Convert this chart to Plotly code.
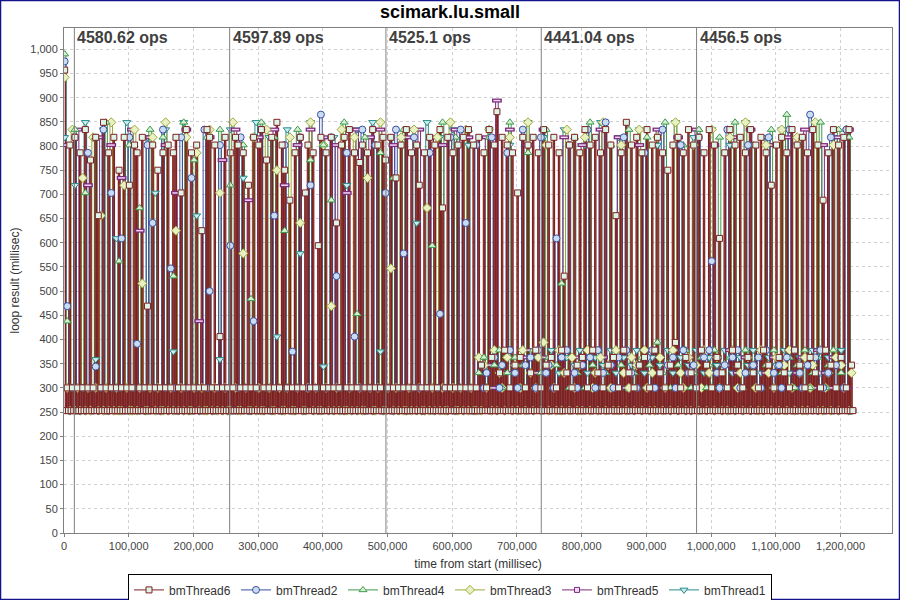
import plotly.graph_objects as go

# sample times (seconds from start) for threads 2,4,3,5,1
t_sec = [
    1, 5, 9, 13, 17, 21, 25, 29, 33, 37, 41, 45, 49, 53, 57, 61, 65, 69, 73, 77,
    81, 85, 89, 93, 97, 101, 105, 109, 113, 117, 121, 125, 129, 133, 137, 141, 145, 149, 153, 157,
    161, 165, 169, 173, 177, 181, 185, 189, 193, 197, 201, 205, 209, 213, 217, 221, 225, 229, 233, 237,
    241, 245, 249, 253, 257, 261, 265, 269, 273, 277, 281, 285, 289, 293, 297, 301, 305, 309, 313, 317,
    321, 325, 329, 333, 337, 341, 345, 349, 353, 357, 361, 365, 369, 373, 377, 381, 385, 389, 393, 397,
    401, 405, 409, 413, 417, 421, 425, 429, 433, 437, 441, 445, 449, 453, 457, 461, 465, 469, 473, 477,
    481, 485, 489, 493, 497, 501, 505, 509, 513, 517, 521, 525, 529, 533, 537, 541, 545, 549, 553, 557,
    561, 565, 569, 573, 577, 581, 585, 589, 593, 597, 601, 605, 609, 613, 617, 621, 625, 629, 633, 637,
    641, 645, 649, 653, 657, 661, 665, 669, 673, 677, 681, 685, 689, 693, 697, 701, 705, 709, 713, 717,
    721, 725, 729, 733, 737, 741, 745, 749, 753, 757, 761, 765, 769, 773, 777, 781, 785, 789, 793, 797,
    801, 805, 809, 813, 817, 821, 825, 829, 833, 837, 841, 845, 849, 853, 857, 861, 865, 869, 873, 877,
    881, 885, 889, 893, 897, 901, 905, 909, 913, 917, 921, 925, 929, 933, 937, 941, 945, 949, 953, 957,
    961, 965, 969, 973, 977, 981, 985, 989, 993, 997, 1001, 1005, 1009, 1013, 1017, 1021, 1025, 1029, 1033, 1037,
    1041, 1045, 1049, 1053, 1057, 1061, 1065, 1069, 1073, 1077, 1081, 1085, 1089, 1093, 1097, 1101, 1105, 1109, 1113, 1117,
    1121, 1125, 1129, 1133, 1137, 1141, 1145, 1149, 1153, 1157, 1161, 1165, 1169, 1173, 1177, 1181, 1185, 1189, 1193, 1197,
    1201, 1205, 1209, 1213, 1217,
]

# sample times (seconds from start) for thread 6
t6_sec = [
    1, 3, 5, 7, 9, 11, 13, 15, 17, 19, 21, 23, 25, 27, 29, 31, 33, 35, 37, 39,
    41, 43, 45, 47, 49, 51, 53, 55, 57, 59, 61, 63, 65, 67, 69, 71, 73, 75, 77, 79,
    81, 83, 85, 87, 89, 91, 93, 95, 97, 99, 101, 103, 105, 107, 109, 111, 113, 115, 117, 119,
    121, 123, 125, 127, 129, 131, 133, 135, 137, 139, 141, 143, 145, 147, 149, 151, 153, 155, 157, 159,
    161, 163, 165, 167, 169, 171, 173, 175, 177, 179, 181, 183, 185, 187, 189, 191, 193, 195, 197, 199,
    201, 203, 205, 207, 209, 211, 213, 215, 217, 219, 221, 223, 225, 227, 229, 231, 233, 235, 237, 239,
    241, 243, 245, 247, 249, 251, 253, 255, 257, 259, 261, 263, 265, 267, 269, 271, 273, 275, 277, 279,
    281, 283, 285, 287, 289, 291, 293, 295, 297, 299, 301, 303, 305, 307, 309, 311, 313, 315, 317, 319,
    321, 323, 325, 327, 329, 331, 333, 335, 337, 339, 341, 343, 345, 347, 349, 351, 353, 355, 357, 359,
    361, 363, 365, 367, 369, 371, 373, 375, 377, 379, 381, 383, 385, 387, 389, 391, 393, 395, 397, 399,
    401, 403, 405, 407, 409, 411, 413, 415, 417, 419, 421, 423, 425, 427, 429, 431, 433, 435, 437, 439,
    441, 443, 445, 447, 449, 451, 453, 455, 457, 459, 461, 463, 465, 467, 469, 471, 473, 475, 477, 479,
    481, 483, 485, 487, 489, 491, 493, 495, 497, 499, 501, 503, 505, 507, 509, 511, 513, 515, 517, 519,
    521, 523, 525, 527, 529, 531, 533, 535, 537, 539, 541, 543, 545, 547, 549, 551, 553, 555, 557, 559,
    561, 563, 565, 567, 569, 571, 573, 575, 577, 579, 581, 583, 585, 587, 589, 591, 593, 595, 597, 599,
    601, 603, 605, 607, 609, 611, 613, 615, 617, 619, 621, 623, 625, 627, 629, 631, 633, 635, 637, 639,
    641, 643, 645, 647, 649, 651, 653, 655, 657, 659, 661, 663, 665, 667, 669, 671, 673, 675, 677, 679,
    681, 683, 685, 687, 689, 691, 693, 695, 697, 699, 701, 703, 705, 707, 709, 711, 713, 715, 717, 719,
    721, 723, 725, 727, 729, 731, 733, 735, 737, 739, 741, 743, 745, 747, 749, 751, 753, 755, 757, 759,
    761, 763, 765, 767, 769, 771, 773, 775, 777, 779, 781, 783, 785, 787, 789, 791, 793, 795, 797, 799,
    801, 803, 805, 807, 809, 811, 813, 815, 817, 819, 821, 823, 825, 827, 829, 831, 833, 835, 837, 839,
    841, 843, 845, 847, 849, 851, 853, 855, 857, 859, 861, 863, 865, 867, 869, 871, 873, 875, 877, 879,
    881, 883, 885, 887, 889, 891, 893, 895, 897, 899, 901, 903, 905, 907, 909, 911, 913, 915, 917, 919,
    921, 923, 925, 927, 929, 931, 933, 935, 937, 939, 941, 943, 945, 947, 949, 951, 953, 955, 957, 959,
    961, 963, 965, 967, 969, 971, 973, 975, 977, 979, 981, 983, 985, 987, 989, 991, 993, 995, 997, 999,
    1001, 1003, 1005, 1007, 1009, 1011, 1013, 1015, 1017, 1019, 1021, 1023, 1025, 1027, 1029, 1031, 1033, 1035, 1037, 1039,
    1041, 1043, 1045, 1047, 1049, 1051, 1053, 1055, 1057, 1059, 1061, 1063, 1065, 1067, 1069, 1071, 1073, 1075, 1077, 1079,
    1081, 1083, 1085, 1087, 1089, 1091, 1093, 1095, 1097, 1099, 1101, 1103, 1105, 1107, 1109, 1111, 1113, 1115, 1117, 1119,
    1121, 1123, 1125, 1127, 1129, 1131, 1133, 1135, 1137, 1139, 1141, 1143, 1145, 1147, 1149, 1151, 1153, 1155, 1157, 1159,
    1161, 1163, 1165, 1167, 1169, 1171, 1173, 1175, 1177, 1179, 1181, 1183, 1185, 1187, 1189, 1191, 1193, 1195, 1197, 1199,
    1201, 1203, 1205, 1207, 1209, 1211, 1213, 1215, 1217, 1219,
]

bmThread6 = [
    957, 253, 300, 253, 802, 253, 300, 253, 818, 253, 300, 253, 786, 253, 300, 253, 834, 253, 300, 253,
    771, 253, 300, 253, 818, 253, 656, 253, 300, 253, 849, 253, 300, 253, 786, 253, 300, 253, 818, 253,
    300, 253, 750, 253, 300, 253, 818, 253, 300, 253, 719, 253, 300, 253, 802, 253, 786, 253, 300, 253,
    818, 253, 300, 253, 469, 253, 300, 253, 802, 253, 300, 253, 750, 253, 300, 253, 786, 253, 300, 253,
    802, 253, 300, 253, 786, 253, 818, 253, 300, 253, 703, 253, 300, 253, 834, 253, 300, 253, 786, 253,
    300, 253, 802, 253, 300, 253, 625, 253, 300, 253, 834, 253, 818, 253, 300, 253, 802, 253, 300, 253,
    406, 253, 300, 253, 818, 253, 300, 253, 786, 253, 300, 253, 818, 253, 802, 253, 300, 253, 786, 253,
    300, 253, 719, 253, 300, 253, 818, 253, 300, 253, 802, 253, 834, 253, 300, 253, 771, 253, 300, 253,
    818, 253, 300, 253, 849, 253, 300, 253, 802, 253, 750, 253, 300, 253, 688, 253, 300, 253, 786, 253,
    300, 253, 818, 253, 300, 253, 703, 253, 802, 253, 300, 253, 786, 253, 300, 253, 594, 253, 818, 253,
    300, 253, 786, 253, 300, 253, 818, 253, 300, 253, 641, 253, 300, 253, 802, 253, 818, 253, 300, 253,
    834, 253, 300, 253, 786, 253, 300, 253, 766, 253, 802, 253, 300, 253, 786, 253, 300, 253, 834, 253,
    300, 253, 802, 253, 300, 253, 818, 253, 771, 253, 300, 253, 818, 253, 300, 253, 734, 253, 300, 253,
    802, 253, 300, 253, 834, 253, 300, 253, 786, 253, 300, 253, 802, 253, 719, 253, 300, 253, 786, 253,
    300, 253, 818, 253, 300, 253, 802, 253, 300, 253, 834, 253, 672, 253, 300, 253, 818, 253, 300, 253,
    786, 253, 300, 253, 802, 253, 300, 253, 818, 253, 300, 253, 834, 253, 300, 253, 802, 253, 300, 253,
    818, 253, 347, 253, 786, 253, 300, 253, 834, 253, 363, 253, 802, 253, 871, 253, 331, 253, 818, 253,
    378, 253, 802, 253, 300, 253, 786, 253, 347, 253, 703, 253, 363, 253, 818, 253, 300, 253, 802, 253,
    331, 253, 818, 253, 378, 253, 786, 253, 300, 253, 834, 253, 347, 253, 802, 253, 363, 253, 818, 253,
    300, 253, 786, 253, 378, 253, 531, 253, 331, 253, 802, 253, 300, 253, 818, 253, 347, 253, 786, 253,
    363, 253, 834, 253, 300, 253, 802, 253, 378, 253, 818, 253, 331, 253, 786, 253, 300, 253, 834, 253,
    347, 253, 802, 253, 363, 253, 656, 253, 300, 253, 786, 253, 378, 253, 849, 253, 331, 253, 802, 253,
    300, 253, 818, 253, 347, 253, 786, 253, 363, 253, 834, 253, 300, 253, 802, 253, 378, 253, 818, 253,
    331, 253, 786, 253, 300, 253, 750, 253, 347, 253, 802, 253, 394, 253, 818, 253, 300, 253, 786, 253,
    363, 253, 834, 253, 331, 253, 802, 253, 300, 253, 818, 253, 378, 253, 786, 253, 347, 253, 834, 253,
    300, 253, 802, 253, 363, 253, 609, 253, 331, 253, 786, 253, 300, 253, 834, 253, 378, 253, 802, 253,
    347, 253, 818, 253, 300, 253, 786, 253, 363, 253, 834, 253, 331, 253, 802, 253, 300, 253, 818, 253,
    378, 253, 786, 253, 347, 253, 719, 253, 300, 253, 802, 253, 363, 253, 818, 253, 331, 253, 786, 253,
    300, 253, 834, 253, 378, 253, 802, 253, 347, 253, 818, 253, 300, 253, 786, 253, 363, 253, 834, 253,
    331, 253, 802, 253, 300, 253, 688, 253, 378, 253, 786, 253, 347, 253, 834, 253, 300, 253, 802, 253,
    363, 253, 818, 253, 300, 253, 834, 253, 347, 253,
]

bmThread2 = [
    975, 469, 253, 300, 818, 253, 253, 300, 253, 786, 300, 253, 344, 253, 300, 834, 253, 253, 703, 300,
    253, 300, 609, 253, 253, 818, 300, 253, 391, 253, 300, 253, 802, 253, 641, 300, 253, 253, 834, 300,
    253, 547, 300, 253, 253, 818, 253, 300, 253, 734, 253, 300, 253, 253, 834, 300, 500, 253, 253, 300,
    802, 253, 300, 253, 594, 253, 253, 300, 818, 253, 300, 253, 253, 438, 300, 253, 834, 253, 300, 253,
    253, 656, 300, 253, 253, 802, 300, 253, 375, 253, 300, 818, 253, 253, 300, 719, 253, 300, 253, 865,
    253, 300, 253, 818, 253, 531, 300, 253, 253, 786, 300, 253, 406, 253, 300, 834, 253, 253, 300, 253,
    802, 300, 253, 253, 703, 300, 253, 253, 834, 253, 300, 578, 253, 253, 300, 818, 253, 300, 253, 253,
    300, 786, 253, 253, 300, 453, 253, 300, 253, 818, 253, 253, 300, 834, 253, 641, 300, 253, 253, 802,
    253, 347, 300, 331, 253, 818, 363, 253, 300, 347, 253, 786, 378, 253, 331, 300, 253, 834, 347, 253,
    363, 253, 300, 378, 818, 253, 331, 347, 253, 300, 609, 253, 363, 253, 378, 802, 253, 331, 300, 253,
    347, 253, 834, 363, 253, 300, 378, 253, 331, 849, 253, 347, 300, 253, 363, 253, 818, 378, 253, 331,
    253, 300, 347, 253, 786, 363, 253, 378, 300, 253, 331, 834, 253, 347, 253, 363, 300, 253, 802, 378,
    253, 331, 253, 347, 300, 818, 253, 363, 253, 378, 562, 253, 331, 300, 253, 347, 834, 253, 363, 253,
    378, 300, 253, 331, 802, 253, 347, 253, 363, 300, 253, 378, 818, 253, 331, 253, 347, 300, 253, 363,
    834, 253, 378, 253, 331, 300, 253, 347, 865, 253, 363, 253, 378, 300, 253, 331, 818, 253, 347, 253,
    363, 300, 834, 253, 253,
]

bmThread4 = [
    990, 438, 300, 253, 834, 253, 300, 253, 703, 253, 300, 253, 818, 253, 253, 300, 849, 253, 300, 253,
    253, 562, 300, 253, 253, 802, 253, 300, 253, 672, 253, 300, 253, 834, 253, 253, 300, 253, 818, 253,
    300, 253, 531, 253, 300, 253, 849, 253, 253, 300, 771, 253, 253, 300, 253, 818, 253, 300, 253, 253,
    834, 253, 300, 253, 719, 253, 300, 253, 253, 802, 300, 253, 484, 253, 300, 253, 849, 253, 253, 300,
    253, 818, 253, 300, 253, 625, 253, 300, 253, 253, 834, 300, 253, 253, 300, 771, 253, 253, 300, 253,
    802, 253, 300, 688, 253, 253, 300, 253, 849, 253, 300, 253, 253, 453, 300, 253, 818, 253, 300, 253,
    253, 300, 786, 253, 253, 300, 253, 734, 253, 300, 253, 834, 253, 253, 300, 253, 802, 300, 253, 253,
    300, 253, 594, 253, 300, 253, 849, 253, 253, 300, 253, 818, 253, 300, 253, 253, 834, 300, 253, 253,
    331, 253, 363, 300, 818, 253, 347, 253, 378, 300, 253, 331, 849, 253, 363, 253, 300, 347, 253, 786,
    253, 378, 300, 253, 331, 253, 834, 363, 253, 300, 347, 253, 516, 253, 378, 300, 253, 818, 331, 253,
    363, 300, 253, 849, 347, 253, 378, 300, 253, 331, 253, 802, 363, 253, 300, 347, 253, 378, 834, 253,
    331, 300, 253, 363, 253, 818, 347, 300, 253, 394, 253, 331, 849, 253, 300, 363, 253, 347, 253, 802,
    378, 253, 300, 331, 253, 834, 363, 253, 300, 347, 253, 378, 253, 818, 331, 300, 253, 363, 253, 849,
    347, 253, 300, 378, 253, 331, 802, 253, 363, 300, 253, 347, 253, 834, 378, 300, 253, 331, 253, 865,
    363, 253, 300, 347, 253, 818, 378, 253, 300, 331, 253, 363, 849, 253, 300, 347, 253, 378, 253, 834,
    331, 300, 253, 818, 253,
]

bmThread3 = [
    942, 300, 253, 834, 253, 300, 253, 734, 253, 300, 253, 818, 300, 253, 656, 253, 300, 253, 849, 253,
    300, 253, 253, 719, 300, 253, 253, 834, 253, 300, 516, 253, 253, 300, 818, 253, 300, 253, 253, 849,
    253, 300, 253, 625, 253, 300, 253, 818, 253, 253, 300, 786, 253, 300, 253, 253, 834, 253, 300, 253,
    703, 253, 300, 253, 253, 849, 300, 253, 253, 578, 300, 253, 253, 818, 253, 300, 253, 253, 834, 300,
    253, 253, 750, 300, 253, 253, 300, 818, 253, 253, 300, 641, 253, 253, 300, 849, 253, 300, 253, 253,
    802, 300, 253, 469, 253, 300, 253, 834, 253, 253, 300, 253, 818, 253, 300, 253, 253, 734, 300, 253,
    253, 300, 849, 253, 253, 300, 547, 253, 300, 253, 818, 253, 253, 300, 253, 834, 253, 300, 253, 253,
    672, 253, 300, 253, 818, 253, 300, 253, 253, 849, 300, 253, 253, 300, 253, 834, 253, 300, 253, 253,
    363, 253, 347, 300, 834, 253, 378, 253, 331, 300, 253, 363, 818, 253, 347, 253, 300, 378, 253, 849,
    331, 253, 300, 363, 253, 394, 802, 253, 347, 300, 253, 378, 253, 331, 834, 253, 363, 300, 253, 347,
    253, 818, 378, 253, 300, 331, 253, 363, 849, 253, 347, 300, 253, 378, 253, 802, 331, 253, 300, 363,
    253, 347, 834, 253, 378, 300, 253, 331, 253, 818, 363, 253, 300, 347, 253, 378, 849, 253, 331, 300,
    253, 363, 253, 802, 347, 253, 300, 378, 253, 331, 834, 253, 363, 300, 253, 347, 253, 818, 378, 253,
    300, 331, 253, 849, 363, 253, 347, 300, 253, 378, 253, 802, 331, 253, 300, 363, 253, 834, 347, 253,
    378, 300, 253, 818, 331, 253, 363, 253, 300, 347, 849, 253, 378, 253, 300, 331, 253, 802, 363, 253,
    347, 300, 834, 253, 331,
]

bmThread5 = [
    802, 253, 300, 253, 253, 834, 300, 253, 253, 719, 300, 253, 253, 818, 253, 300, 253, 253, 802, 300,
    253, 253, 734, 300, 253, 253, 834, 253, 300, 625, 253, 253, 300, 818, 253, 253, 300, 253, 253, 802,
    300, 253, 253, 703, 253, 300, 253, 834, 253, 253, 300, 253, 438, 253, 300, 253, 818, 253, 253, 300,
    253, 771, 300, 253, 253, 300, 834, 253, 253, 300, 253, 688, 253, 253, 300, 818, 253, 253, 300, 253,
    253, 834, 300, 253, 253, 719, 300, 253, 253, 300, 802, 253, 253, 300, 253, 834, 253, 300, 253, 253,
    818, 253, 300, 253, 253, 802, 300, 253, 253, 703, 300, 253, 253, 834, 253, 300, 253, 253, 818, 300,
    253, 253, 834, 253, 300, 253, 253, 802, 300, 253, 253, 300, 818, 253, 253, 300, 253, 834, 253, 300,
    253, 253, 818, 300, 253, 253, 802, 253, 300, 253, 253, 834, 300, 253, 253, 300, 818, 253, 253, 300,
    253, 363, 300, 818, 347, 253, 300, 894, 253, 378, 253, 331, 834, 253, 347, 300, 253, 363, 253, 802,
    378, 253, 300, 331, 253, 834, 363, 253, 347, 300, 253, 378, 253, 818, 331, 253, 300, 363, 253, 347,
    802, 253, 378, 300, 253, 331, 253, 834, 363, 253, 300, 347, 253, 378, 818, 253, 331, 300, 253, 363,
    253, 347, 802, 253, 378, 300, 253, 331, 253, 834, 363, 253, 300, 347, 253, 378, 253, 818, 331, 253,
    300, 363, 253, 347, 834, 253, 378, 300, 253, 331, 253, 802, 363, 253, 300, 347, 253, 378, 818, 253,
    331, 300, 253, 363, 253, 834, 347, 253, 300, 378, 253, 331, 802, 253, 363, 300, 253, 347, 253, 818,
    378, 253, 300, 331, 253, 363, 834, 253, 347, 300, 253, 378, 253, 802, 331, 253, 300, 363, 253, 818,
    347, 253, 300, 834, 253,
]

bmThread1 = [
    818, 300, 253, 253, 719, 300, 253, 253, 849, 253, 300, 253, 359, 253, 300, 834, 253, 253, 300, 253,
    609, 253, 300, 253, 849, 253, 253, 300, 391, 253, 253, 300, 818, 253, 253, 703, 300, 253, 253, 834,
    253, 300, 375, 253, 253, 300, 849, 253, 253, 300, 253, 656, 253, 300, 253, 253, 818, 300, 253, 253,
    359, 253, 300, 253, 834, 253, 253, 300, 253, 734, 253, 300, 253, 253, 849, 253, 300, 253, 253, 818,
    300, 253, 406, 253, 253, 300, 834, 253, 253, 300, 253, 578, 253, 300, 253, 849, 253, 253, 300, 253,
    344, 253, 300, 253, 818, 253, 253, 300, 253, 719, 253, 300, 253, 834, 253, 253, 300, 253, 253, 849,
    253, 300, 375, 253, 253, 300, 818, 253, 253, 300, 253, 253, 834, 300, 253, 253, 641, 300, 253, 253,
    849, 253, 300, 253, 253, 818, 300, 253, 253, 300, 834, 253, 253, 300, 253, 253, 802, 300, 253, 253,
    363, 253, 300, 347, 834, 253, 378, 253, 300, 331, 253, 363, 802, 253, 347, 300, 253, 378, 253, 849,
    331, 253, 300, 363, 253, 818, 347, 253, 378, 300, 253, 331, 253, 834, 363, 253, 300, 347, 253, 378,
    253, 802, 331, 300, 253, 363, 253, 849, 347, 253, 300, 378, 253, 331, 818, 253, 363, 300, 253, 347,
    253, 378, 834, 253, 331, 300, 253, 363, 253, 802, 347, 253, 300, 378, 253, 331, 849, 253, 363, 300,
    253, 347, 253, 818, 378, 253, 300, 331, 253, 363, 834, 253, 347, 300, 253, 378, 253, 802, 331, 253,
    300, 363, 253, 849, 347, 253, 378, 300, 253, 331, 253, 818, 363, 253, 300, 347, 253, 834, 378, 253,
    331, 300, 253, 802, 363, 253, 347, 253, 300, 378, 849, 253, 331, 253, 300, 363, 253, 818, 347, 253,
    378, 300, 253, 834, 253,
]

ops_marker_ms = [16000, 256000, 497500, 737500, 977500]
ops_labels = ["4580.62 ops", "4597.89 ops", "4525.1 ops", "4441.04 ops", "4456.5 ops"]

series_names = ["bmThread6", "bmThread2", "bmThread4", "bmThread3", "bmThread5", "bmThread1"]
series_values = [bmThread6, bmThread2, bmThread4, bmThread3, bmThread5, bmThread1]
series_times = [t6_sec, t_sec, t_sec, t_sec, t_sec, t_sec]

styles = {
    "bmThread6": dict(line="#7f2020", fill="#dcf5e8", symbol="square", size=6, lw=1.2),
    "bmThread2": dict(line="#3b4fa3", fill="#c9dcf2", symbol="circle", size=7, lw=1),
    "bmThread4": dict(line="#3f9a4a", fill="#d7f0d7", symbol="triangle-up", size=7, lw=1),
    "bmThread3": dict(line="#9caa3c", fill="#e9f1c4", symbol="diamond", size=7, lw=1),
    "bmThread5": dict(line="#7b2b7b", fill="#f5d6f5", symbol="rect", size=7, lw=1),
    "bmThread1": dict(line="#2b8b8b", fill="#c9eded", symbol="triangle-down", size=7, lw=1),
}

fig = go.Figure()

draw_order = list(reversed(list(zip(series_names, series_values, series_times))))

# pass 0: lines
for name, ys, ts in draw_order:
    st = styles[name]
    n = min(len(ts), len(ys))
    xs = [s * 1000 for s in ts[:n]]
    fig.add_trace(go.Scatter(x=xs, y=ys[:n], mode="lines",
                             line=dict(color=st["line"], width=st["lw"], shape="hvh"),
                             showlegend=False, hoverinfo="skip"))

# pass 1: shapes
for name, ys, ts in draw_order:
    st = styles[name]
    n = min(len(ts), len(ys))
    xs = [s * 1000 for s in ts[:n]]
    if st["symbol"] == "rect":
        fig.add_trace(go.Scatter(x=xs, y=ys[:n], mode="markers",
                                 marker=dict(symbol="line-ew", size=7,
                                             line=dict(color=st["line"], width=4)),
                                 showlegend=False, hoverinfo="skip"))
        fig.add_trace(go.Scatter(x=xs, y=ys[:n], mode="markers",
                                 marker=dict(symbol="line-ew", size=5,
                                             line=dict(color=st["fill"], width=1.5)),
                                 showlegend=False, hoverinfo="skip"))
    else:
        fig.add_trace(go.Scatter(x=xs, y=ys[:n], mode="markers",
                                 marker=dict(symbol=st["symbol"], size=st["size"],
                                             color=st["fill"],
                                             line=dict(color=st["line"], width=1)),
                                 showlegend=False, hoverinfo="skip"))

# legend entries
for name in series_names:
    st = styles[name]
    if st["symbol"] == "rect":
        mk = dict(symbol="square", size=5, color=st["fill"], line=dict(color=st["line"], width=1))
    else:
        mk = dict(symbol=st["symbol"], size=st["size"], color=st["fill"],
                  line=dict(color=st["line"], width=1))
    fig.add_trace(go.Scatter(x=[None], y=[None], mode="lines+markers", name=name,
                             line=dict(color=st["line"], width=1), marker=mk))

shapes = []
annotations = []
for xm, lab in zip(ops_marker_ms, ops_labels):
    shapes.append(dict(type="line", xref="x", yref="paper", x0=xm, x1=xm, y0=0, y1=1,
                       line=dict(color="#808080", width=1), layer="above"))
    annotations.append(dict(x=xm, xref="x", y=1, yref="paper", xanchor="left", yanchor="top",
                            xshift=1, yshift=1, showarrow=False, text="<b>" + lab + "</b>",
                            font=dict(size=16, color="#404040")))

# outer border of the chart image
shapes.append(dict(type="rect", xref="paper", yref="paper",
                   x0=-63.5 / 828, x1=1 + 7.5 / 828, y0=-66.5 / 505, y1=1 + 27.5 / 505,
                   line=dict(color="#14148c", width=1.5), layer="above"))

fig.update_layout(
    width=900, height=600,
    margin=dict(l=64, r=8, t=28, b=67, autoexpand=False),
    paper_bgcolor="white", plot_bgcolor="white",
    font=dict(family="Liberation Sans, Arial, sans-serif", size=11, color="#444444"),
    title=dict(text="<b>scimark.lu.small</b>", x=0.5, xref="container", xanchor="center",
               y=1 - 12 / 600, yref="container", yanchor="middle",
               font=dict(size=18, color="#000000")),
    shapes=shapes,
    annotations=annotations,
    legend=dict(orientation="h", x=(450 - 64) / 828, xanchor="center", y=-0.082, yanchor="top",
                bordercolor="#000000", borderwidth=1, bgcolor="white",
                font=dict(size=12, color="#333333"), itemwidth=30,
                entrywidth=62, entrywidthmode="pixels",
                traceorder="normal"),
    showlegend=True,
)

fig.update_xaxes(range=[0, 1279500], tick0=0, dtick=100000, tickformat=",d", automargin=False,
                 showgrid=True, gridcolor="#d0d0d0", griddash="3px,3px", gridwidth=1,
                 zeroline=False, showline=True, linecolor="#808080", linewidth=1, mirror=True,
                 ticks="outside", ticklen=3, tickcolor="#808080",
                 tickfont=dict(size=11, color="#444444"),
                 title=dict(text="time from start (millisec)", standoff=8,
                            font=dict(size=12, color="#333333")))
fig.update_yaxes(range=[0, 1044], tick0=0, dtick=50, tickformat=",d", automargin=False,
                 showgrid=True, gridcolor="#d0d0d0", griddash="3px,3px", gridwidth=1,
                 zeroline=False, showline=True, linecolor="#808080", linewidth=1, mirror=True,
                 ticks="outside", ticklen=3, tickcolor="#808080",
                 tickfont=dict(size=11, color="#444444"),
                 title=dict(text="loop result (millisec)", standoff=8,
                            font=dict(size=12, color="#333333")))

fig.write_html("out.html", config={"displayModeBar": False},
               post_script="document.body.style.margin='0px';")
